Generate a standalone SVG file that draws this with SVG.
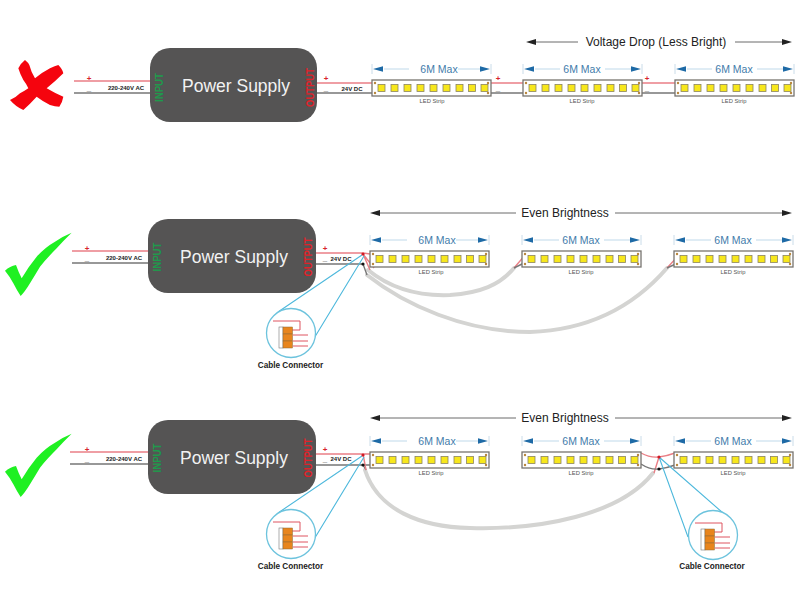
<svg xmlns="http://www.w3.org/2000/svg" xmlns:xlink="http://www.w3.org/1999/xlink" width="800" height="600" viewBox="0 0 800 600">
<style>
text{font-family:"Liberation Sans",Arial,sans-serif}
.psu{fill:#555454}
.pt{fill:#f2f2f2;font-size:17.5px;text-anchor:middle}
.in{fill:#1f9a4c;font-size:11px;font-weight:bold;text-anchor:middle}
.out{fill:#e0222a;font-size:11px;font-weight:bold;text-anchor:middle}
.v{fill:#222;font-size:6px;font-weight:bold;text-anchor:middle}
.sign{fill:#d8232a;font-size:8px;font-weight:bold;text-anchor:middle}
.minus{fill:#222;font-size:8px;font-weight:bold;text-anchor:middle}
.red{stroke:#ea7f86;stroke-width:1.4;fill:none}
.blk{stroke:#777;stroke-width:1.4;fill:none}
.strip{fill:#fff;stroke:#77746f;stroke-width:1.3}
.led{fill:#f7e71c;stroke:#8a8460;stroke-width:.8}
.pad{fill:#b9873d}
.max{fill:#3f7cab;font-size:10.5px;text-anchor:middle}
.ls{fill:#555;font-size:5.8px;text-anchor:middle}
.dim{stroke:#bfd9ea;stroke-width:1;fill:none}
.tick{stroke:#bcd3e3;stroke-width:.8}
.ah{fill:#1e6aa6}
.top{fill:#222;font-size:12px;text-anchor:middle}
.topl{stroke:#444;stroke-width:.8}
.ck{fill:#1ff022}
.cable{stroke:#d4d4d2;stroke-width:4;fill:none;stroke-linecap:round}
.cy{stroke:#4db8dc;stroke-width:1.1;fill:none}
.circ{fill:#fff;stroke:#6cc3dd;stroke-width:1.3}
.cc{fill:#222;font-size:8.2px;font-weight:bold;text-anchor:middle}
.org{fill:#e8851d;stroke:#8a6a3a;stroke-width:.5}
.wht{fill:#fff;stroke:#777;stroke-width:.6}
.thin{stroke:#de5560;stroke-width:1;fill:none}
</style>
<defs>
<path id="checkmark" d="M15,152 Q30,138 48,135 Q55,155 65,175 Q85,140 110,110 Q135,82 165,65 Q190,48 215,38 Q190,62 170,85 Q140,115 120,140 Q105,165 90,190 Q75,215 62,228 Q50,210 40,190 Q30,170 15,152 Z"/>
<g id="stripbody">
<rect class="strip" x="0" y="0" width="119" height="16"/>
<g class="led">
<rect x="6" y="4.500" width="7" height="7"/><rect x="19" y="4.500" width="7" height="7"/><rect x="32" y="4.500" width="7" height="7"/><rect x="45" y="4.500" width="7" height="7"/><rect x="58" y="4.500" width="7" height="7"/><rect x="71" y="4.500" width="7" height="7"/><rect x="84" y="4.500" width="7" height="7"/><rect x="96.500" y="4.500" width="7" height="7"/><rect x="109" y="4.500" width="7" height="7"/>
</g>
<circle class="pad" cx="3" cy="3" r="1.2"/><circle class="pad" cx="3" cy="13" r="1.2"/><circle class="pad" cx="116" cy="3" r="1.2"/><circle class="pad" cx="116" cy="13" r="1.2"/>
</g>
<g id="dimarrows">
<path class="tick" d="M0,-5 V5 M119,-5 V5"/>
<path class="dim" d="M12,0 H37 M82,0 H108"/>
<path class="ah" d="M1,0 L11,-2.8 V2.8 Z M118,0 L108,-2.8 V2.8 Z"/>
</g>
<g id="dimarrowsfirst">
<path class="tick" d="M0,-5 V5 M119,-5 V5"/>
<path class="dim" d="M12,0 H37 M86,0 H108"/>
<path class="ah" d="M1,0 L11,-2.8 V2.8 Z M118,0 L108,-2.8 V2.8 Z"/>
</g>
<g id="lens">
<circle class="circ" cx="0" cy="0" r="24.500"/>
<path class="thin" d="M-18,-12 H9 V-3 H-8 M2,2 H17 M2,8 H17 M2,13 H17"/>
<rect class="wht" x="-12" y="-6" width="4" height="21"/>
<rect class="org" x="-8" y="-6" width="9.500" height="7"/><rect class="org" x="-8" y="1" width="9.500" height="7"/><rect class="org" x="-8" y="8" width="9.500" height="7"/>
</g>
</defs>

<g id="status-cross"><path fill="#f5040e" transform="translate(0,50) scale(.3333)" d="M55,55 Q62,40 75,30 Q85,38 88,45 Q93,65 105,85 Q125,68 150,55 Q165,48 175,45 Q188,58 190,70 Q165,95 140,115 Q165,130 190,140 Q187,158 178,170 Q165,170 150,165 Q130,155 110,140 Q90,162 70,180 Q47,170 30,150 Q45,145 60,130 Q75,122 85,115 Q78,100 70,90 Q60,72 55,55 Z"/></g>
<g id="status-check-1"><use class="ck" href="#checkmark" xlink:href="#checkmark" transform="translate(0,220) scale(.3333)"/></g>
<g id="status-check-2"><use class="ck" href="#checkmark" xlink:href="#checkmark" transform="translate(0,421) scale(.3333)"/></g>

<g id="connectors">
<path class="red" d="M74,81 H150 M317,83 H372 M490,83 H523 M641,83 H675"/>
<path class="blk" d="M74,93 H150 M317,93 H372 M490,93 H523 M641,93 H675"/>
<path class="red" d="M72,251 H148 M316,253 H363 L370,254"/>
<path class="blk" d="M72,263 H148 M316,264 H363"/>
<path class="red" d="M70,452 H148 M316,454 H363 L370,454"/>
<path class="blk" d="M70,464 H148 M316,465 H363 L370,465"/>
<path class="cable" d="M368,270 C395,292 425,296 450,295 C480,293 500,285 514,268"/>
<path class="cable" d="M367,275 C405,305 465,332 530,332 C590,330 635,305 667,268"/>
<path class="cable" d="M365,470 C378,510 420,527 470,528 C540,530 620,515 653,473"/>
<path class="red" d="M363,254 L370,270 M363,254 L374,268 M514,268 L526,254 M667,268 L679,255"/>
<path class="blk" d="M363,264 L367,275 M514,268 L526,262 M667,268 L680,262 M363,465 L366,470"/>
<path class="red" d="M363,454 L366,470 M641,453 Q650,458 659,457 Q667,456 675,453 M659,457 L654,473"/>
<path class="blk" d="M641,464 Q650,470 659,469 Q667,468 675,465"/>
<path class="cy" d="M362,255 L278,312 M364,256 L313,340 M362,456 L278,513 M364,457 L313,541 M659,457 L723,513 M659,457 L688,537"/>
<circle cx="363" cy="254" r="1.6" fill="#d01a24"/><circle cx="363" cy="264" r="1.6" fill="#111"/>
<circle cx="363" cy="455" r="1.6" fill="#d01a24"/><circle cx="363" cy="465" r="1.6" fill="#111"/>
<circle cx="659" cy="457" r="1.6" fill="#d01a24"/><circle cx="659" cy="469" r="1.6" fill="#111"/>
<path class="topl" d="M530,42 H578 M735,42 H788 M374,213 H516 M615,213 H788 M374,418 H516 M615,418 H788"/>
<path d="M526,42 L536,39 V45 Z M792,42 L782,39 V45 Z M370,213 L380,210 V216 Z M792,213 L782,210 V216 Z M370,418 L380,415 V421 Z M792,418 L782,415 V421 Z" fill="#222"/>
</g>

<g id="power-supply-1"><rect class="psu" x="150" y="48" width="167" height="74" rx="20"/><text class="pt" x="236" y="92">Power Supply</text><text class="in" transform="translate(163,87.500) rotate(-90) scale(.88,1)">INPUT</text><text class="out" transform="translate(314,87.500) rotate(-90) scale(.86,1)">OUTPUT</text></g>
<g id="power-supply-2"><rect class="psu" x="148" y="219" width="168" height="74" rx="20"/><text class="pt" x="234" y="263">Power Supply</text><text class="in" transform="translate(161,257) rotate(-90) scale(.88,1)">INPUT</text><text class="out" transform="translate(312,257) rotate(-90) scale(.86,1)">OUTPUT</text></g>
<g id="power-supply-3"><rect class="psu" x="148" y="420" width="168" height="74" rx="20"/><text class="pt" x="234" y="464">Power Supply</text><text class="in" transform="translate(161,458) rotate(-90) scale(.88,1)">INPUT</text><text class="out" transform="translate(312,458) rotate(-90) scale(.86,1)">OUTPUT</text></g>

<g id="labels">
<text class="sign" x="89" y="81">+</text><text class="minus" x="89" y="90.500">_</text><text class="v" x="126" y="90">220-240V AC</text>
<text class="sign" x="326" y="81">+</text><text class="minus" x="326" y="90.500">_</text><text class="v" x="352" y="91">24V DC</text>
<text class="sign" x="498" y="81">+</text><text class="minus" x="498" y="90.500">_</text>
<text class="sign" x="647" y="81">+</text><text class="minus" x="647" y="90.500">_</text>
<text class="sign" x="87" y="251">+</text><text class="minus" x="87" y="261">_</text><text class="v" x="124" y="260">220-240V AC</text>
<text class="sign" x="325" y="251">+</text><text class="minus" x="325" y="261">_</text><text class="v" x="341" y="261">24V DC</text>
<text class="sign" x="87" y="452">+</text><text class="minus" x="87" y="462">_</text><text class="v" x="124" y="461">220-240V AC</text>
<text class="sign" x="325" y="452">+</text><text class="minus" x="325" y="462">_</text><text class="v" x="341" y="461">24V DC</text>
<text class="top" x="656" y="46">Voltage Drop (Less Bright)</text>
<text class="top" x="565" y="217">Even Brightness</text>
<text class="top" x="565" y="422">Even Brightness</text>
</g>

<g id="strip-1-1"><use xlink:href="#stripbody" href="#stripbody" x="372" y="80"/><use href="#dimarrowsfirst" xlink:href="#dimarrowsfirst" x="372" y="69"/><text class="max" x="439" y="73">6M Max</text><text class="ls" x="432" y="103">LED Strip</text></g>
<g id="strip-1-2"><use xlink:href="#stripbody" href="#stripbody" x="523" y="80"/><use href="#dimarrows" xlink:href="#dimarrows" x="523" y="69"/><text class="max" x="582" y="73">6M Max</text><text class="ls" x="582" y="103">LED Strip</text></g>
<g id="strip-1-3"><use xlink:href="#stripbody" href="#stripbody" x="675" y="80"/><use href="#dimarrows" xlink:href="#dimarrows" x="675" y="69"/><text class="max" x="734" y="73">6M Max</text><text class="ls" x="734" y="103">LED Strip</text></g>
<g id="strip-2-1"><use xlink:href="#stripbody" href="#stripbody" x="370" y="251"/><use href="#dimarrowsfirst" xlink:href="#dimarrowsfirst" x="370" y="240"/><text class="max" x="437" y="244">6M Max</text><text class="ls" x="431" y="274">LED Strip</text></g>
<g id="strip-2-2"><use xlink:href="#stripbody" href="#stripbody" x="522" y="251"/><use href="#dimarrows" xlink:href="#dimarrows" x="522" y="240"/><text class="max" x="581" y="244">6M Max</text><text class="ls" x="581" y="274">LED Strip</text></g>
<g id="strip-2-3"><use xlink:href="#stripbody" href="#stripbody" x="674" y="251"/><use href="#dimarrows" xlink:href="#dimarrows" x="674" y="240"/><text class="max" x="733" y="244">6M Max</text><text class="ls" x="733" y="274">LED Strip</text></g>
<g id="strip-3-1"><use xlink:href="#stripbody" href="#stripbody" x="370" y="452"/><use href="#dimarrowsfirst" xlink:href="#dimarrowsfirst" x="370" y="441"/><text class="max" x="437" y="445">6M Max</text><text class="ls" x="431" y="475">LED Strip</text></g>
<g id="strip-3-2"><use xlink:href="#stripbody" href="#stripbody" x="522" y="452"/><use href="#dimarrows" xlink:href="#dimarrows" x="522" y="441"/><text class="max" x="581" y="445">6M Max</text><text class="ls" x="581" y="475">LED Strip</text></g>
<g id="strip-3-3"><use xlink:href="#stripbody" href="#stripbody" x="674" y="452"/><use href="#dimarrows" xlink:href="#dimarrows" x="674" y="441"/><text class="max" x="733" y="445">6M Max</text><text class="ls" x="733" y="475">LED Strip</text></g>

<g id="connector-lens-1"><use href="#lens" xlink:href="#lens" x="291" y="333"/><text class="cc" x="290.500" y="368">Cable Connector</text></g>
<g id="connector-lens-2"><use href="#lens" xlink:href="#lens" x="291" y="534"/><text class="cc" x="290.500" y="569">Cable Connector</text></g>
<g id="connector-lens-3"><use href="#lens" xlink:href="#lens" x="713" y="535"/><text class="cc" x="712" y="569">Cable Connector</text></g>
</svg>
